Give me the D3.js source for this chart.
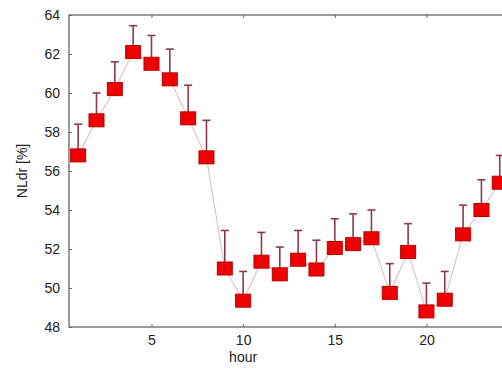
<!DOCTYPE html>
<html>
<head>
<meta charset="utf-8">
<script src="https://cdn.jsdelivr.net/npm/d3@7"></script>
<style>
  body { margin: 0; background: #fff; }
  svg { display: block; }
  text { font-family: "Liberation Sans", Arial, sans-serif; fill: #222; }
</style>
</head>
<body>
<svg id="chart"></svg>
<script>
// hourly NLdr means with upper error bar
const hours = [1, 2, 3, 4, 5, 6, 7, 8, 9, 10, 11, 12, 13, 14, 15, 16, 17, 18, 19, 20, 21, 22, 23, 24];
const nldr = [56.8, 58.6, 60.2, 62.1, 61.5, 60.7, 58.7, 56.7, 51.0, 49.35, 51.35, 50.7, 51.45, 50.95,
  52.05, 52.25, 52.55, 49.75, 51.85, 48.8, 49.4, 52.75, 54.0, 55.4];
const upper = [58.4, 60.0, 61.6, 63.45, 62.95, 62.25, 60.4, 58.6, 52.95, 50.85, 52.85, 52.1, 52.95, 52.45,
  53.55, 53.8, 54.0, 51.25, 53.3, 50.25, 50.85, 54.25, 55.55, 56.8];
const xTicks = [5, 10, 15, 20];
const yTicks = [48, 50, 52, 54, 56, 58, 60, 62, 64];

const width = 502, height = 368;
const margin = { top: 15, left: 69, bottom: 41 };

const svg = d3.select('#chart')
    .attr('width', width)
    .attr('height', height);

const x = d3.scaleLinear().domain([0.5, 24.5]).range([margin.left, margin.left + 24 * 18.33]);
const y = d3.scaleLinear().domain([48, 64]).range([height - margin.bottom, margin.top]);

const frame = svg.append('g');
const axisColor = '#666';

// frame lines
frame.append('rect')
    .attr('x', x(0.5)).attr('y', y(64))
    .attr('width', x(24.5) - x(0.5)).attr('height', y(48) - y(64))
    .attr('fill', 'none').attr('stroke', axisColor).attr('stroke-width', 1.3);

// left axis
const yAxis = svg.append('g')
    .attr('transform', `translate(${x(0.5)},0)`)
    .call(d3.axisLeft(y).tickValues(yTicks).tickSizeInner(-3).tickSizeOuter(0).tickPadding(9));
yAxis.select('.domain').remove();
yAxis.selectAll('line').attr('stroke', axisColor);
yAxis.selectAll('text').attr('font-size', 14).style('font-family', '"Liberation Sans", Arial, sans-serif').attr('fill', '#222');

// bottom axis
const xAxis = svg.append('g')
    .attr('transform', `translate(0,${y(48)})`)
    .call(d3.axisBottom(x).tickValues(xTicks).tickSizeInner(-3).tickSizeOuter(0).tickPadding(8));
xAxis.select('.domain').remove();
xAxis.selectAll('line').attr('stroke', axisColor);
xAxis.selectAll('text').attr('font-size', 14).style('font-family', '"Liberation Sans", Arial, sans-serif').attr('fill', '#222');

// top ticks
svg.append('g')
    .attr('transform', `translate(0,${y(64)})`)
    .call(d3.axisTop(x).tickValues(xTicks).tickSizeInner(-3).tickSizeOuter(0).tickFormat(''))
    .call(g => g.select('.domain').remove())
    .selectAll('line').attr('stroke', axisColor);

// labels
svg.append('text')
    .attr('x', x(10)).attr('y', 362)
    .attr('text-anchor', 'middle').attr('font-size', 14)
    .text('hour');

svg.append('text')
    .attr('transform', `translate(27,${(y(48) + y(64)) / 2}) rotate(-90)`)
    .attr('text-anchor', 'middle').attr('font-size', 14)
    .text('NLdr [%]');

const pts = hours.map((h, i) => ({ h: h, v: nldr[i], u: upper[i] }));

// connecting line
svg.append('path')
    .datum(pts)
    .attr('fill', 'none')
    .attr('stroke', '#e2c4c8')
    .attr('stroke-width', 1.2)
    .attr('d', d3.line().x(d => x(d.h)).y(d => y(d.v)));

// error bars (upper only)
const err = svg.append('g').attr('stroke', '#8e3a48').attr('stroke-width', 1.6);
err.selectAll('line.stem')
    .data(pts).enter().append('line')
    .attr('class', 'stem')
    .attr('x1', d => x(d.h)).attr('x2', d => x(d.h))
    .attr('y1', d => y(d.v)).attr('y2', d => y(d.u));
err.selectAll('line.cap')
    .data(pts).enter().append('line')
    .attr('class', 'cap')
    .attr('x1', d => x(d.h) - 4).attr('x2', d => x(d.h) + 4)
    .attr('y1', d => y(d.u)).attr('y2', d => y(d.u));

// square markers
svg.append('g').selectAll('rect')
    .data(pts).enter().append('rect')
    .attr('x', d => x(d.h) - 7.5)
    .attr('y', d => y(d.v) - 6.5)
    .attr('width', 15).attr('height', 13)
    .attr('fill', '#ee0000')
    .attr('stroke', '#b80000')
    .attr('stroke-width', 1);
</script>
</body>
</html>
